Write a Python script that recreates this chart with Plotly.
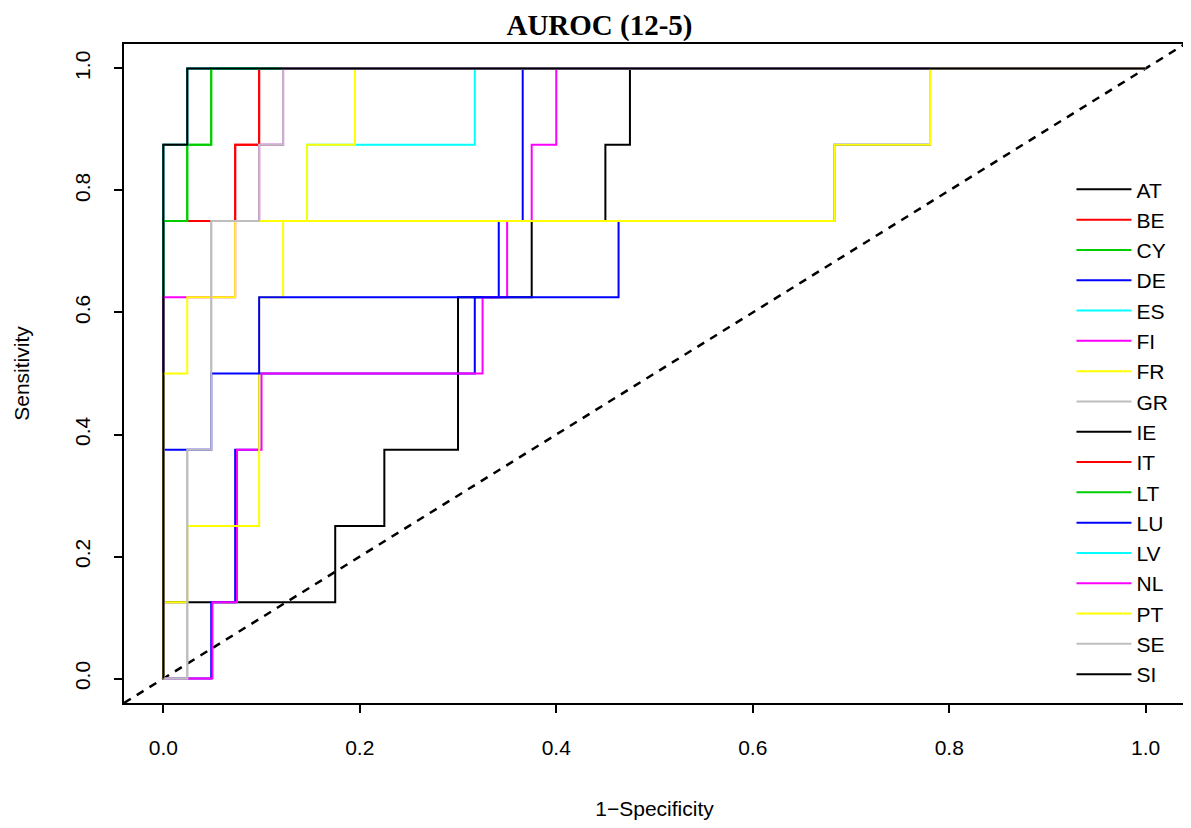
import plotly.graph_objects as go

# ---- data (counts of false / true positives) ----
n_pos = 8
countries = ["AT", "BE", "CY", "DE", "ES", "FI", "FR", "GR", "IE",
             "IT", "LT", "LU", "LV", "NL", "PT", "SE", "SI"]
colors = ["#000000", "#FF0000", "#00CD00", "#0000FF", "#00FFFF", "#FF00FF",
          "#FFFF00", "#BEBEBE", "#000000", "#FF0000", "#00CD00", "#0000FF",
          "#00FFFF", "#FF00FF", "#FFFF00", "#BEBEBE", "#000000"]
n_neg = [40, 41, 41, 41, 41, 40, 41, 41, 41, 41, 41, 41, 41, 41, 41, 41, 41]

fp_AT = [0, 0, 7, 7, 9, 9, 12, 12, 15, 15, 18, 18, 19, 19, 40]
tp_AT = [0, 1, 1, 2, 2, 3, 3, 5, 5, 6, 6, 7, 7, 8, 8]
fp_BE = [0, 0, 3, 3, 4, 4, 41]
tp_BE = [0, 6, 6, 7, 7, 8, 8]
fp_CY = [0, 0, 1, 1, 2, 2, 41]
tp_CY = [0, 6, 6, 7, 7, 8, 8]
fp_DE = [0, 2, 2, 3, 3, 4, 4, 13, 13, 14, 14, 15, 15, 41]
tp_DE = [0, 0, 1, 1, 3, 3, 4, 4, 5, 5, 6, 6, 8, 8]
fp_ES = [0, 0, 6, 6, 13, 13, 41]
tp_ES = [0, 6, 6, 7, 7, 8, 8]
fp_FI = [0, 2, 2, 3, 3, 4, 4, 13, 13, 14, 14, 15, 15, 16, 16, 40]
tp_FI = [0, 0, 1, 1, 3, 3, 4, 4, 5, 5, 6, 6, 7, 7, 8, 8]
fp_FR = [0, 0, 1, 1, 4, 4, 5, 5, 6, 6, 8, 8, 41]
tp_FR = [0, 1, 1, 2, 2, 5, 5, 6, 6, 7, 7, 8, 8]
fp_GR = [0, 1, 1, 2, 2, 4, 4, 5, 5, 41]
tp_GR = [0, 0, 3, 3, 6, 6, 7, 7, 8, 8]
fp_IE = [0, 0, 1, 1, 41]
tp_IE = [0, 7, 7, 8, 8]
fp_IT = [0, 0, 3, 3, 4, 4, 41]
tp_IT = [0, 6, 6, 7, 7, 8, 8]
fp_LT = [0, 0, 1, 1, 2, 2, 41]
tp_LT = [0, 6, 6, 7, 7, 8, 8]
fp_LU = [0, 0, 2, 2, 4, 4, 19, 19, 28, 28, 32, 32, 41]
tp_LU = [0, 3, 3, 4, 4, 5, 5, 6, 6, 7, 7, 8, 8]
fp_LV = [0, 0, 1, 1, 41]
tp_LV = [0, 7, 7, 8, 8]
fp_NL = [0, 0, 3, 3, 4, 4, 5, 5, 41]
tp_NL = [0, 5, 5, 6, 6, 7, 7, 8, 8]
fp_PT = [0, 0, 1, 1, 3, 3, 28, 28, 32, 32, 41]
tp_PT = [0, 4, 4, 5, 5, 6, 6, 7, 7, 8, 8]
fp_SE = [0, 1, 1, 2, 2, 4, 4, 5, 5, 41]
tp_SE = [0, 0, 3, 3, 6, 6, 7, 7, 8, 8]
fp_SI = [0, 0, 1, 1, 41]
tp_SI = [0, 7, 7, 8, 8]

fps = [fp_AT, fp_BE, fp_CY, fp_DE, fp_ES, fp_FI, fp_FR, fp_GR, fp_IE,
       fp_IT, fp_LT, fp_LU, fp_LV, fp_NL, fp_PT, fp_SE, fp_SI]
tps = [tp_AT, tp_BE, tp_CY, tp_DE, tp_ES, tp_FI, tp_FR, tp_GR, tp_IE,
       tp_IT, tp_LT, tp_LU, tp_LV, tp_NL, tp_PT, tp_SE, tp_SI]

tick_vals = [0.0, 0.2, 0.4, 0.6, 0.8, 1.0]
tick_text = ["0.0", "0.2", "0.4", "0.6", "0.8", "1.0"]
diag = [-0.04, 1.04]

fig = go.Figure()

# chance diagonal
fig.add_trace(go.Scatter(x=diag, y=diag, mode="lines", showlegend=False,
                         hoverinfo="skip",
                         line=dict(color="black", width=2.5, dash="8px,7px")))

for i, (name, col) in enumerate(zip(countries, colors)):
    x = [v / n_neg[i] for v in fps[i]]
    y = [v / n_pos for v in tps[i]]
    fig.add_trace(go.Scatter(x=x, y=y, mode="lines", name=name,
                             legendgroup=name,
                             line=dict(color=col, width=2)))

axis_font = dict(family="Liberation Sans, Arial, sans-serif", size=21, color="black")

fig.update_xaxes(range=[-0.04, 1.04], tickvals=tick_vals, ticktext=tick_text,
                 ticks="outside", ticklen=8, tickwidth=1.5, tickcolor="black",
                 showline=True, linecolor="black", linewidth=2, mirror=True,
                 showgrid=False, zeroline=False, tickfont=axis_font,
                 ticklabelstandoff=17, automargin=False,
                 title=dict(text="1\u2212Specificity", font=axis_font, standoff=43))
fig.update_yaxes(range=[-0.04, 1.04], tickvals=tick_vals, ticktext=tick_text,
                 ticks="outside", ticklen=8, tickwidth=1.5, tickcolor="black",
                 showline=True, linecolor="black", linewidth=2, mirror=True,
                 showgrid=False, zeroline=False, tickfont=axis_font,
                 tickangle=-90, ticklabelstandoff=16, automargin=False,
                 title=dict(text="Sensitivity", font=axis_font, standoff=35))

# the page body adds an 8px offset, so the figure is 8px smaller than the window
fig.update_layout(
    width=1183, height=820,
    margin=dict(l=116, r=6, t=36, b=125),
    paper_bgcolor="white", plot_bgcolor="white",
    title=dict(text="<b>AUROC (12-5)</b>", x=0.5, xref="container",
               y=1 - 17 / 820, yref="container", yanchor="middle", xanchor="center",
               font=dict(family="Liberation Serif, Times New Roman, serif",
                         size=29, color="black")),
    legend=dict(x=0.893, y=0.810, xanchor="left", yanchor="top",
                bgcolor="rgba(0,0,0,0)", borderwidth=0,
                font=axis_font, tracegroupgap=0, itemwidth=55),
    showlegend=True,
)

fig.write_html("out.html")
